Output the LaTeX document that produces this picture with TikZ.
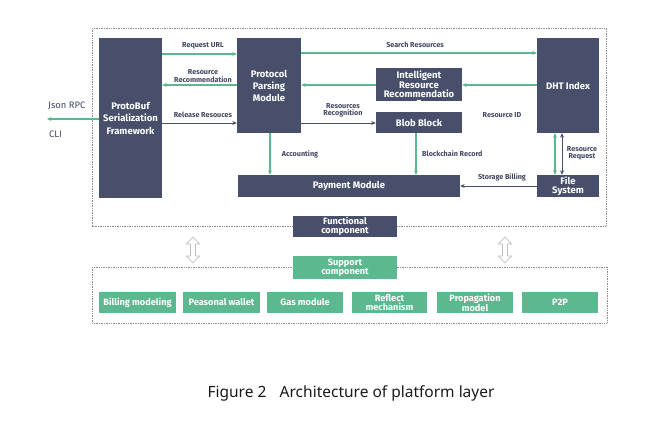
\documentclass[tikz,border=0pt]{standalone}
\usepackage{fontspec}
\setmainfont{Fira Sans}
\newfontfamily\capfont{Noto Sans}
\usetikzlibrary{arrows.meta}
\definecolor{dk}{HTML}{474F6B}
\definecolor{gn}{HTML}{5CB88E}
\definecolor{dl}{HTML}{8A8A8A}
\definecolor{hollow}{HTML}{BDBDBD}
\tikzset{
  dkbox/.style={fill=dk, text=white, font=\fontsize{9.5}{10}\selectfont\bfseries, align=center, inner sep=0pt},
  gnbox/.style={fill=gn, text=white, font=\fontsize{9.2}{8.6}\selectfont\bfseries, align=center, inner sep=0pt},
  lbl/.style={text=dk!90!black, font=\fontsize{7.2}{7.2}\selectfont\bfseries, align=center, inner sep=0pt},
  side/.style={text=dk!90!black, font=\fontsize{9.4}{9.4}\selectfont, inner sep=0pt, anchor=west},
  garr/.style={draw=gn, line width=1.1pt, -{Stealth[length=4.5pt,width=4pt]}},
  darr/.style={draw=dk, line width=0.9pt, -{Stealth[length=4.5pt,width=4pt]}},
  dbox/.style={draw=dl, line width=0.5pt, dash pattern=on 1pt off 0.7pt},
  hollowarrow/.style={draw=hollow, fill=white, line width=0.7pt}
}
\begin{document}
\begin{tikzpicture}[x=1pt,y=-1pt]
\useasboundingbox (0,0) rectangle (672,427);
% dashed containers
\draw[dbox] (92,28) rectangle (606,226);
\draw[dbox] (92,267) rectangle (607,323);
% main boxes
\node[dkbox, minimum width=63pt, minimum height=160pt] (pb) at (130.5,118) {ProtoBuf\\[2.5pt]Serialization\\[2.5pt]Framework};
\node[dkbox, minimum width=64pt, minimum height=95pt] (pp) at (269,85.5) {Protocol\\[2pt]Parsing\\[2pt]Module};
\node[dkbox, minimum width=86pt, minimum height=33pt] (ir) at (419,84.5) {};
\begin{scope}
\clip (376,68) rectangle (462,101);
\node[text=white, font=\fontsize{9.5}{8.6}\selectfont\bfseries, align=center, inner sep=0pt, anchor=north] (irt) at (419,71) {Intelligent\\Resource\\Recommendatio\\n};
\end{scope}
\node[dkbox, minimum width=86pt, minimum height=21pt] (bb) at (419,122.5) {Blob Block};
\node[dkbox, minimum width=222pt, minimum height=22pt] (pm) at (349,186) {Payment Module};
\node[dkbox, minimum width=62pt, minimum height=95pt] (dht) at (568,85.5) {DHT Index};
\node[dkbox, minimum width=62pt, minimum height=22pt, font=\fontsize{9.5}{8.6}\selectfont\bfseries] (fs) at (568,186) {File\\System};
\node[dkbox, minimum width=104pt, minimum height=21pt, font=\fontsize{9.2}{8.6}\selectfont\bfseries] (fc) at (345,226.5) {Functional\\component};
\node[gnbox, minimum width=104pt, minimum height=23pt] (sc) at (345,267.5) {Support\\component};
% support row
\node[gnbox, minimum width=77pt, minimum height=21pt] (b1) at (137.5,302.5) {Billing modeling};
\node[gnbox, minimum width=77pt, minimum height=21pt] (b2) at (221.5,302.5) {Peasonal wallet};
\node[gnbox, minimum width=76pt, minimum height=21pt] (b3) at (305,302.5) {Gas module};
\node[gnbox, minimum width=75pt, minimum height=21pt] (b4) at (389.5,302.5) {Reflect\\mechanism};
\node[gnbox, minimum width=76pt, minimum height=21pt] (b5) at (475,302.5) {Propagation\\model};
\node[gnbox, minimum width=76pt, minimum height=21pt] (b6) at (560,302.5) {P2P};
% connectors
\draw[garr] (pb.east |- 0,54) -- (pp.west |- 0,54);
\node[lbl] (l1) at (203,45.5) {Request URL};
\draw[garr] (pp.west |- 0,85) -- (pb.east |- 0,85);
\node[lbl] (l2) at (203,76) {Resource\\Recommendation};
\draw[darr] (pb.east |- 0,123) -- (pp.west |- 0,123);
\node[lbl] (l3) at (203,115) {Release Resouces};
\coordinate (jr) at (47,119);
\draw[garr] (pb.west |- jr) -- (jr);
\node[side] (l4) at (48,106) {Json RPC};
\node[side] (l5) at (49,134) {CLI};
\draw[garr] (pp.east |- 0,53) -- (dht.west |- 0,53);
\node[lbl] (l6) at (415,45) {Search Resources};
\draw[garr] (dht.west |- 0,85) -- (ir.east |- 0,85);
\draw[garr] (ir.west |- 0,85) -- (pp.east |- 0,85);
\draw[darr] (pp.east |- 0,123) -- (bb.west |- 0,123);
\node[lbl] (l7) at (343,110) {Resources\\Recognition};
\draw[garr] (pp.south -| 270,0) -- (pm.north -| 270,0);
\node[lbl] (l8) at (300,154) {Accounting};
\draw[garr] (bb.south -| 416,0) -- (pm.north -| 416,0);
\node[lbl, anchor=west] (l9) at (422,154) {Blockchain Record};
\node[lbl] (l10) at (502,115) {Resource ID};
\draw[garr, {Stealth[length=4.5pt,width=4pt]}-{Stealth[length=4.5pt,width=4pt]}] (dht.south -| 555,0) -- (fs.north -| 555,0);
\draw[darr, {Stealth[length=4.5pt,width=4pt]}-{Stealth[length=4.5pt,width=4pt]}] (dht.south -| 562,0) -- (fs.north -| 562,0);
\node[lbl] (l11) at (582,153.5) {Resource\\Request};
\draw[darr] (fs.west |- 0,186) -- (pm.east |- 0,186);
\node[lbl] (l12) at (502,177.5) {Storage Billing};
% hollow double arrows
\foreach \x in {193,505}{
  \draw[hollowarrow] (\x-2.5,244)--(\x-6.5,244)--(\x,237)--(\x+6.5,244)--(\x+2.5,244)--(\x+2.5,256)--(\x+6.5,256)--(\x,263)--(\x-6.5,256)--(\x-2.5,256)--cycle;
}
% caption
\node[font=\capfont\fontsize{15.5}{16}\selectfont, text=black!90, inner sep=0pt] (cap) at (351,393) {Figure 2\hspace{0.6em} Architecture of platform layer};
\end{tikzpicture}
\end{document}
